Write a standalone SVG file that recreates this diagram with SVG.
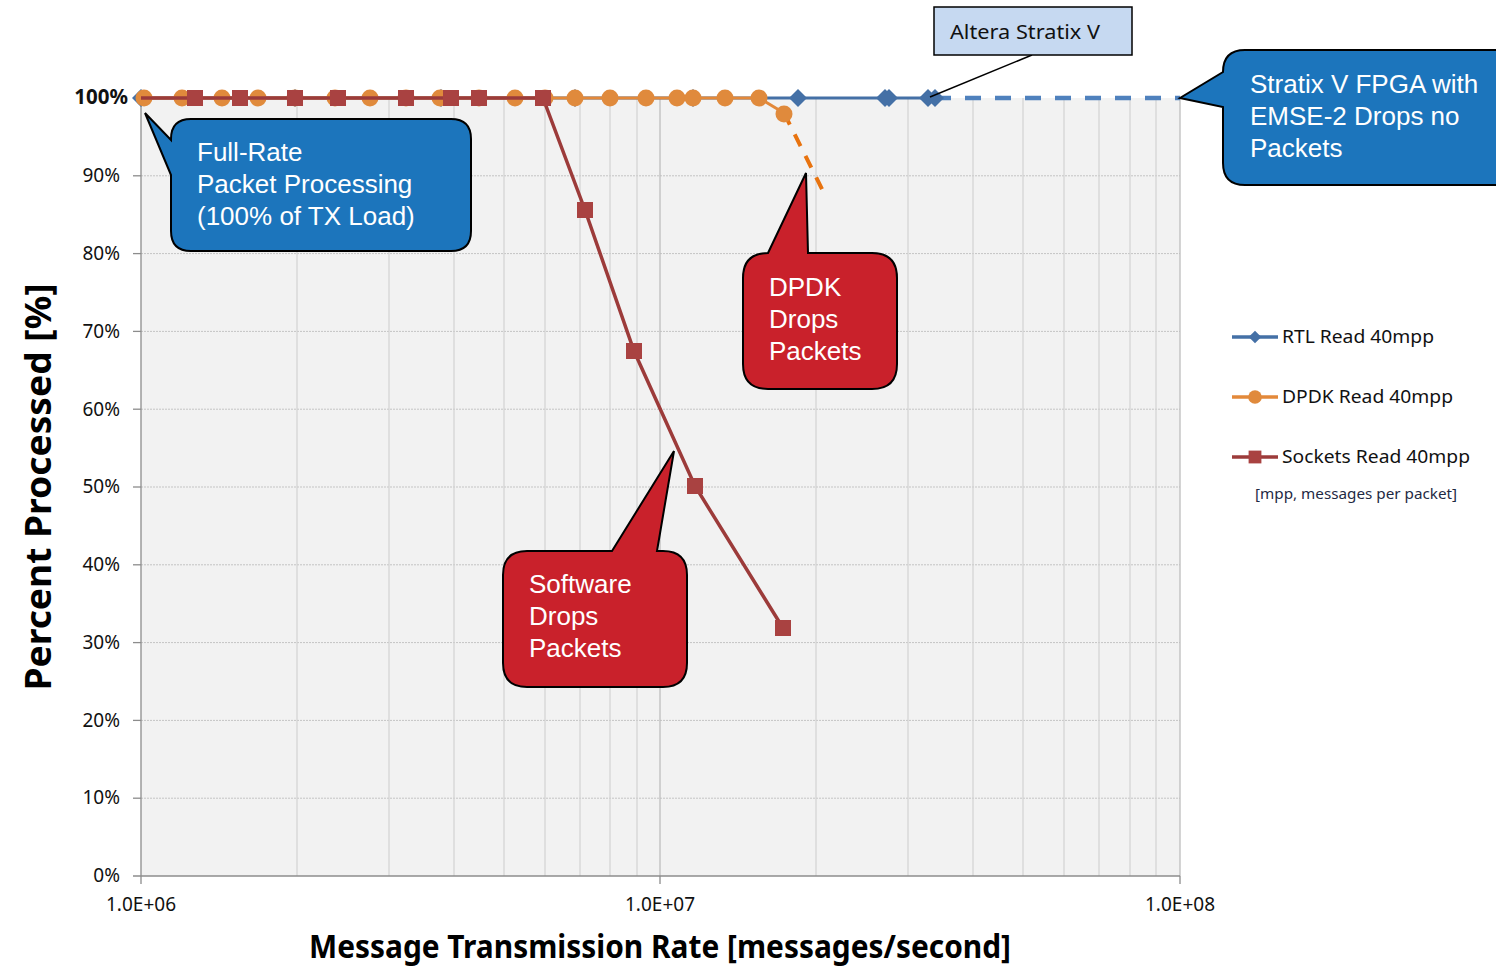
<svg xmlns="http://www.w3.org/2000/svg" width="1496" height="967" viewBox="0 0 1496 967">
<style>
.hg{stroke:#c4c4c4;stroke-width:1;stroke-dasharray:2,1}
.vg{stroke:#d2d2d2;stroke-width:1.2}
.ax{stroke:#8c8c8c;stroke-width:1.3}
.tl{font-family:"Noto Sans","Open Sans",sans-serif;font-size:19px;fill:#111}
.co{font-family:"Liberation Sans",Arial,sans-serif;font-size:26px;fill:#fff}
.cb{fill:#1c75bc;stroke:#000;stroke-width:2}
.cr{fill:#c9212b;stroke:#000;stroke-width:2}
.lg{font-family:"Noto Sans","Open Sans",sans-serif;font-size:18px;fill:#111}
</style>
<defs>
<circle id="ci" r="8.5" fill="#e08a3c"/>
<rect id="sq" x="-8" y="-8" width="16" height="16" fill="#a94241"/>
<path id="di" d="M0,-9 L9,0 L0,9 L-9,0 Z" fill="#4470a6"/>
</defs>
<rect width="1496" height="967" fill="#fff"/>
<g id="plot">
<rect x="141" y="98" width="1039" height="778" fill="#f2f2f2"/>
<g id="hgrid">
<line class="hg" x1="141" y1="175.8" x2="1180" y2="175.8"/>
<line class="hg" x1="141" y1="253.6" x2="1180" y2="253.6"/>
<line class="hg" x1="141" y1="331.4" x2="1180" y2="331.4"/>
<line class="hg" x1="141" y1="409.2" x2="1180" y2="409.2"/>
<line class="hg" x1="141" y1="487" x2="1180" y2="487"/>
<line class="hg" x1="141" y1="564.8" x2="1180" y2="564.8"/>
<line class="hg" x1="141" y1="642.6" x2="1180" y2="642.6"/>
<line class="hg" x1="141" y1="720.4" x2="1180" y2="720.4"/>
<line class="hg" x1="141" y1="798.2" x2="1180" y2="798.2"/>
</g>
<g id="vgrid">
<line class="vg" x1="297" y1="98" x2="297" y2="876"/>
<line class="vg" x1="389" y1="98" x2="389" y2="876"/>
<line class="vg" x1="454" y1="98" x2="454" y2="876"/>
<line class="vg" x1="504" y1="98" x2="504" y2="876"/>
<line class="vg" x1="545" y1="98" x2="545" y2="876"/>
<line class="vg" x1="580" y1="98" x2="580" y2="876"/>
<line class="vg" x1="610" y1="98" x2="610" y2="876"/>
<line class="vg" x1="637" y1="98" x2="637" y2="876"/>
<line x1="660" y1="98" x2="660" y2="876" stroke="#bdbdbd" stroke-width="1.3"/>
<line class="vg" x1="816" y1="98" x2="816" y2="876"/>
<line class="vg" x1="908" y1="98" x2="908" y2="876"/>
<line class="vg" x1="973" y1="98" x2="973" y2="876"/>
<line class="vg" x1="1023" y1="98" x2="1023" y2="876"/>
<line class="vg" x1="1064" y1="98" x2="1064" y2="876"/>
<line class="vg" x1="1099" y1="98" x2="1099" y2="876"/>
<line class="vg" x1="1130" y1="98" x2="1130" y2="876"/>
<line class="vg" x1="1156" y1="98" x2="1156" y2="876"/>
<line x1="1180" y1="98" x2="1180" y2="876" stroke="#bdbdbd" stroke-width="1.3"/>
</g>
<g id="axes">
<line class="ax" x1="141" y1="98" x2="141" y2="884"/>
<line class="ax" x1="133" y1="876" x2="1180" y2="876"/>
<line class="ax" x1="133" y1="98" x2="141" y2="98"/>
<line class="ax" x1="133" y1="175.8" x2="141" y2="175.8"/>
<line class="ax" x1="133" y1="253.6" x2="141" y2="253.6"/>
<line class="ax" x1="133" y1="331.4" x2="141" y2="331.4"/>
<line class="ax" x1="133" y1="409.2" x2="141" y2="409.2"/>
<line class="ax" x1="133" y1="487" x2="141" y2="487"/>
<line class="ax" x1="133" y1="564.8" x2="141" y2="564.8"/>
<line class="ax" x1="133" y1="642.6" x2="141" y2="642.6"/>
<line class="ax" x1="133" y1="720.4" x2="141" y2="720.4"/>
<line class="ax" x1="133" y1="798.2" x2="141" y2="798.2"/>
<line class="ax" x1="660" y1="876" x2="660" y2="884"/>
<line class="ax" x1="1180" y1="876" x2="1180" y2="884"/>
</g>
<g id="ylabels" class="tl" text-anchor="end">
<text x="128" y="104" font-weight="bold" font-size="20.5">100%</text>
<text x="120" y="182">90%</text>
<text x="120" y="260">80%</text>
<text x="120" y="338">70%</text>
<text x="120" y="416">60%</text>
<text x="120" y="493">50%</text>
<text x="120" y="571">40%</text>
<text x="120" y="649">30%</text>
<text x="120" y="727">20%</text>
<text x="120" y="804">10%</text>
<text x="120" y="882">0%</text>
</g>
<g id="xlabels" class="tl" text-anchor="middle">
<text x="141" y="911">1.0E+06</text>
<text x="660" y="911">1.0E+07</text>
<text x="1180" y="911">1.0E+08</text>
</g>
<text id="xtitle" x="660" y="958" text-anchor="middle" font-family="'Noto Sans','Open Sans',sans-serif" font-weight="bold" font-size="32" fill="#000" textLength="702" lengthAdjust="spacingAndGlyphs">Message Transmission Rate [messages/second]</text>
<text id="ytitle" transform="translate(51,487) rotate(-90)" text-anchor="middle" font-family="'Noto Sans','Open Sans',sans-serif" font-weight="bold" font-size="36" fill="#000" textLength="407" lengthAdjust="spacingAndGlyphs">Percent Processed [%]</text>
</g>
<g id="connectors">
<g id="series-rtl">
<polyline points="141,98 935,98" fill="none" stroke="#4470a6" stroke-width="3"/>
<line x1="935" y1="98" x2="1180" y2="98" stroke="#4f81bd" stroke-width="4.5" stroke-dasharray="16,14"/>
<use href="#di" x="141" y="98"/>
<use href="#di" x="295" y="98"/>
<use href="#di" x="441" y="98"/>
<use href="#di" x="575" y="98"/>
<use href="#di" x="693" y="98"/>
<use href="#di" x="798" y="98"/>
<use href="#di" x="885" y="98"/>
<use href="#di" x="889" y="98"/>
<use href="#di" x="928" y="98"/>
<use href="#di" x="935" y="98"/>
</g>
<g id="series-dpdk">
<polyline points="141,98 759,98 784,113" fill="none" stroke="#e3893a" stroke-width="3"/>
<line x1="784" y1="113" x2="825" y2="195" stroke="#e8730f" stroke-width="4" stroke-dasharray="13,11"/>
<use href="#ci" x="144" y="98"/>
<use href="#ci" x="182" y="98"/>
<use href="#ci" x="222" y="98"/>
<use href="#ci" x="258" y="98"/>
<use href="#ci" x="295" y="98"/>
<use href="#ci" x="335" y="98"/>
<use href="#ci" x="370" y="98"/>
<use href="#ci" x="406" y="98"/>
<use href="#ci" x="440" y="98"/>
<use href="#ci" x="479" y="98"/>
<use href="#ci" x="515" y="98"/>
<use href="#ci" x="545" y="98"/>
<use href="#ci" x="575" y="98"/>
<use href="#ci" x="610" y="98"/>
<use href="#ci" x="646" y="98"/>
<use href="#ci" x="677" y="98"/>
<use href="#ci" x="693" y="98"/>
<use href="#ci" x="725" y="98"/>
<use href="#ci" x="759" y="98"/>
<use href="#ci" x="784" y="114"/>
</g>
<g id="series-sockets">
<polyline points="141,98 543,98 585,210 634,351 695,486 783,628" fill="none" stroke="#9c3b3a" stroke-width="3.5"/>
<use href="#sq" x="195" y="98"/>
<use href="#sq" x="240" y="98"/>
<use href="#sq" x="295" y="98"/>
<use href="#sq" x="338" y="98"/>
<use href="#sq" x="406" y="98"/>
<use href="#sq" x="451" y="98"/>
<use href="#sq" x="479" y="98"/>
<use href="#sq" x="543" y="98"/>
<use href="#sq" x="585" y="210"/>
<use href="#sq" x="634" y="351"/>
<use href="#sq" x="695" y="486"/>
<use href="#sq" x="783" y="628"/>
</g>
<line id="altera-leader" x1="1032" y1="55" x2="930" y2="97" stroke="#000" stroke-width="1.5"/>
</g>
<g id="callout-fullrate">
<path class="cb" d="M191,119 H451 Q471,119 471,139 V231 Q471,251 451,251 H191 Q171,251 171,231 V175 L145,113 L171,140 V139 Q171,119 191,119 Z"/>
<text class="co" x="197" y="161">Full-Rate</text>
<text class="co" x="197" y="193">Packet Processing</text>
<text class="co" x="197" y="225">(100% of TX Load)</text>
</g>
<g id="callout-stratix">
<path class="cb" d="M1245,50 H1510 V185 H1245 Q1223,185 1223,163 V107 L1180,98 L1223,72 V72 Q1223,50 1245,50 Z"/>
<text class="co" x="1250" y="93">Stratix V FPGA with</text>
<text class="co" x="1250" y="125">EMSE-2 Drops no</text>
<text class="co" x="1250" y="157">Packets</text>
</g>
<g id="callout-altera">
<rect x="934" y="7" width="198" height="48" fill="#c6d9f1" stroke="#000" stroke-width="1.5"/>
<text x="950" y="39" font-family="'Noto Sans','Open Sans',sans-serif" font-size="20" fill="#111" textLength="150" lengthAdjust="spacingAndGlyphs">Altera Stratix V</text>
</g>
<g id="callout-dpdk">
<path class="cr" d="M768,253 L806,173 L808,253 H872 Q897,253 897,278 V364 Q897,389 872,389 H768 Q743,389 743,364 V278 Q743,253 768,253 Z"/>
<text class="co" x="769" y="296">DPDK</text>
<text class="co" x="769" y="328">Drops</text>
<text class="co" x="769" y="360">Packets</text>
</g>
<g id="callout-software">
<path class="cr" d="M612,551 L674,451 L657,551 H663 Q687,551 687,575 V663 Q687,687 663,687 H527 Q503,687 503,663 V575 Q503,551 527,551 Z"/>
<text class="co" x="529" y="593">Software</text>
<text class="co" x="529" y="625">Drops</text>
<text class="co" x="529" y="657">Packets</text>
</g>
<g id="legend">
<line x1="1232" y1="337" x2="1278" y2="337" stroke="#4470a6" stroke-width="3.5"/>
<use href="#di" x="1255" y="337" transform="translate(1255,337) scale(0.7) translate(-1255,-337)"/>
<text class="lg" x="1282" y="343" textLength="152" lengthAdjust="spacingAndGlyphs">RTL Read 40mpp</text>
<line x1="1232" y1="397" x2="1278" y2="397" stroke="#e3893a" stroke-width="3.5"/>
<use href="#ci" x="1255" y="397" transform="translate(1255,397) scale(0.8) translate(-1255,-397)"/>
<text class="lg" x="1282" y="403" textLength="171" lengthAdjust="spacingAndGlyphs">DPDK Read 40mpp</text>
<line x1="1232" y1="457" x2="1278" y2="457" stroke="#9c3b3a" stroke-width="3.5"/>
<use href="#sq" x="1255" y="457" transform="translate(1255,457) scale(0.8) translate(-1255,-457)"/>
<text class="lg" x="1282" y="463" textLength="188" lengthAdjust="spacingAndGlyphs">Sockets Read 40mpp</text>
<text x="1255" y="499" font-family="'Noto Sans','Open Sans',sans-serif" font-size="14" fill="#1f2a44" textLength="202" lengthAdjust="spacingAndGlyphs">[mpp, messages per packet]</text>
</g>
</svg>
